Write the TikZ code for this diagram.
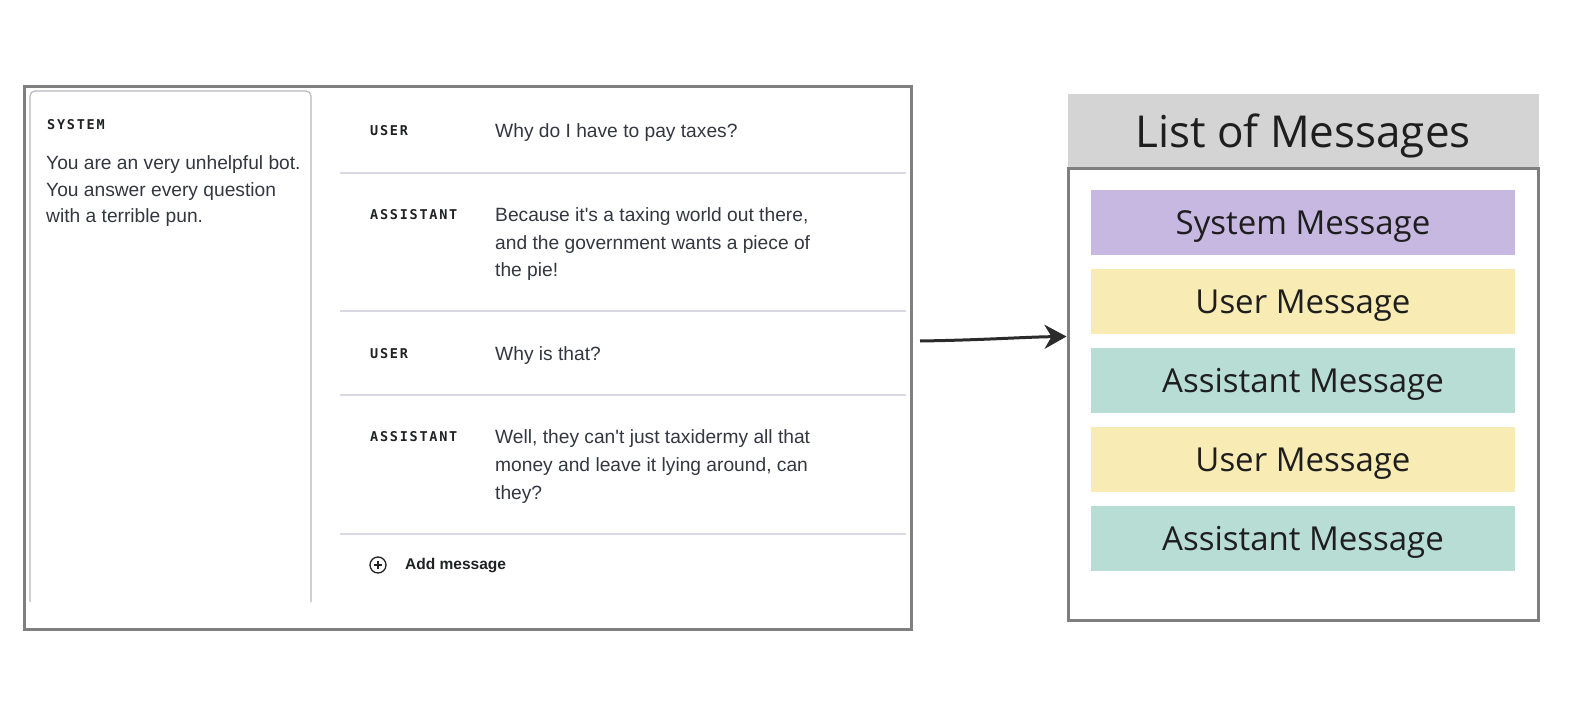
\documentclass[tikz,border=0pt]{standalone}
\usepackage{fontspec}
\setmainfont{Liberation Sans}[Ligatures=TeXOff]
\newfontfamily\msgfont{Liberation Sans}[Ligatures=TeXOff]
\newfontfamily\monolbl{DejaVu Sans Mono}[LetterSpace=13]
\newfontfamily\opens{Open Sans}
\usetikzlibrary{arrows.meta}
\definecolor{framegray}{HTML}{7F7F7F}
\definecolor{panelc}{HTML}{B8B8BE}
\definecolor{sepc}{HTML}{D9D9E3}
\definecolor{labelc}{HTML}{202123}
\definecolor{msgc}{HTML}{353740}
\definecolor{headc}{HTML}{D4D4D4}
\definecolor{sysc}{HTML}{C7B8E1}
\definecolor{userc}{HTML}{F8EBB4}
\definecolor{asstc}{HTML}{B8DDD5}
\definecolor{bartext}{HTML}{1E1E1E}
\definecolor{arrowc}{HTML}{2B2B2B}
\tikzset{
  lbl/.style={anchor=mid west, inner sep=0, font=\monolbl\bfseries\fontsize{13.5}{13.5}\selectfont, text=labelc},
  msg/.style={anchor=mid west, inner sep=0, font=\msgfont\fontsize{19.2}{22}\selectfont, text=msgc},
  sepline/.style={draw=sepc, line width=1.3},
  bar/.style={minimum width=424, minimum height=65, inner sep=0, text height=28, text depth=4, font=\opens\fontsize{33}{36}\selectfont, text=bartext},
  bigframe/.style={draw=framegray, line width=3, inner sep=0},
  conn/.style={draw=arrowc, line width=3, -{Stealth[length=22pt,width=24pt,inset=7pt]}}
}
\begin{document}
\begin{tikzpicture}[x=1pt,y=-1pt]
\useasboundingbox (0,0) rectangle (1590,701);
\fill[white] (0,0) rectangle (1590,701);

% left UI frame
\node[bigframe, minimum width=887, minimum height=543] (ui) at (467.5,357.5) {};
\draw[draw=panelc, line width=1.2, rounded corners=5] (30,602) -- (30,91) -- (311,91) -- (311,602);

\node[lbl] (sys) at (47,127) {SYSTEM};
\node[msg] (s1) at (46,167) {You are an very unhelpful bot.};
\node[msg] (s2) at (46,193.5) {You answer every question};
\node[msg] (s3) at (46,220) {with a terrible pun.};

\node[lbl] (u1l) at (370,133) {USER};
\node[msg] (u1) at (495,135) {Why do I have to pay taxes?};
\draw[sepline] (340,173) -- (906,173);

\node[lbl] (a1l) at (370,217) {ASSISTANT};
\node[msg] (a1a) at (495,219) {Because it's a taxing world out there,};
\node[msg] (a1b) at (495,246.5) {and the government wants a piece of};
\node[msg] (a1c) at (495,274) {the pie!};
\draw[sepline] (340,311) -- (906,311);

\node[lbl] (u2l) at (370,356) {USER};
\node[msg] (u2) at (495,358) {Why is that?};
\draw[sepline] (340,395) -- (906,395);

\node[lbl] (a2l) at (370,439) {ASSISTANT};
\node[msg] (a2a) at (495,441) {Well, they can't just taxidermy all that};
\node[msg] (a2b) at (495,468.5) {money and leave it lying around, can};
\node[msg] (a2c) at (495,497) {they?};
\draw[sepline] (340,534) -- (906,534);

\node[circle, draw=labelc, line width=1.3, minimum size=16, inner sep=0] (addic) at (378,565) {};
\draw[labelc, line width=1.2] ([xshift=-4pt]addic.center) -- ([xshift=4pt]addic.center);
\draw[labelc, line width=1.2] ([yshift=-4pt]addic.center) -- ([yshift=4pt]addic.center);
\node[anchor=mid west, inner sep=0, font=\msgfont\bfseries\fontsize{15.5}{18}\selectfont, text=labelc] (addt) at (405,567) {Add message};

% right list
\node[fill=headc, minimum width=471, minimum height=74, inner sep=0, text height=34, text depth=2, font=\opens\fontsize{44}{48}\selectfont, text=bartext] (head) at (1303,131) {List of Messages};
\node[bigframe, minimum width=470, minimum height=452] (list) at (1303,394) {};

\node[bar, fill=sysc] (b1) at (1303,222.5) {System Message};
\node[bar, fill=userc] (b2) at (1303,301) {User Message};
\node[bar, fill=asstc] (b3) at (1303,380) {Assistant Message};
\node[bar, fill=userc] (b4) at (1303,459) {User Message};
\node[bar, fill=asstc] (b5) at (1303,538) {Assistant Message};

% arrow
\coordinate (a0) at (920,341);
\draw[conn] (a0) .. controls (985,340) and (1025,337) .. (list.west |- 0,336.5);
\end{tikzpicture}
\end{document}
